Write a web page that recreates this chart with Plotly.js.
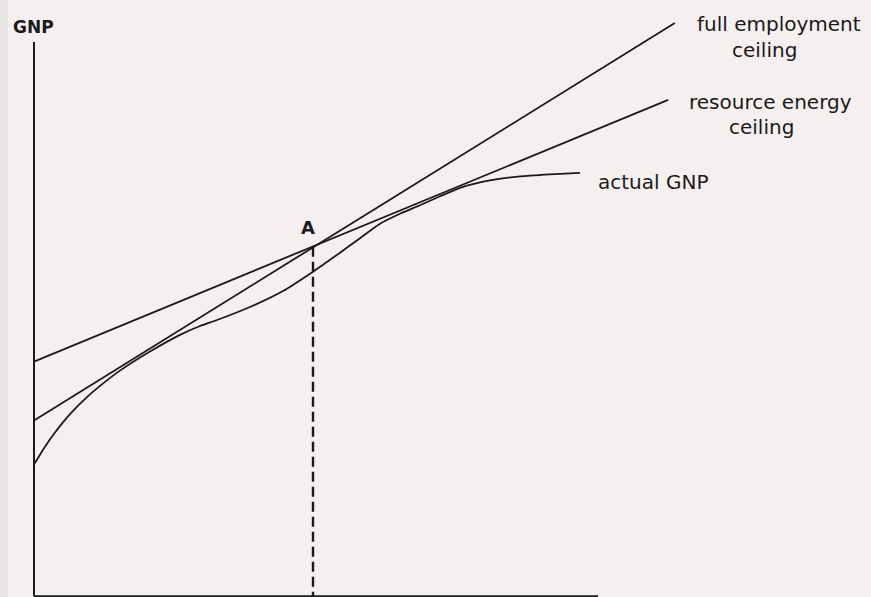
<!DOCTYPE html>
<html>
<head>
<meta charset="utf-8">
<script src="https://cdn.plot.ly/plotly-3.0.1.min.js"></script>
<style>
html,body{margin:0;padding:0;background:#f6efef;}
#chart{width:871px;height:597px;}
</style>
</head>
<body>
<div id="chart"></div>
<script>
// Data (abstract units)
const fullEmpX = [0, 46.5, 106.8];
const fullEmpY = [35.2, 69.9, 114.8];
const resourceX = [0, 46.5, 105.7];
const resourceY = [47, 70, 99.4];
const actualX = [0, 1.83, 3.5, 6, 8.83, 11.83, 14.33, 19.33, 24.33, 27.67, 30.5, 36, 41.5, 46.5, 51, 54.33, 57.67, 61, 64.33, 67.67, 71.5, 76, 81, 86, 91];
const actualY = [26.4, 29.96, 32.8, 36.48, 39.88, 42.92, 45.18, 49, 52.34, 54.12, 55.32, 57.92, 61.12, 65, 68.8, 71.7, 74.6, 76.6, 78.3, 80.1, 82, 83.3, 84.1, 84.5, 84.8];
const pointA = {x: 46.5, y: 70};
const axisTop = 111;
const axisRight = 94;

const ink = '#1a1a1a';
const font = 'DejaVu Sans, sans-serif';

const traces = [
  {x: [0, 0], y: [0, axisTop], mode: 'lines', line: {color: ink, width: 2}},
  {x: [0, axisRight], y: [0, 0], mode: 'lines', line: {color: ink, width: 2}},
  {x: fullEmpX, y: fullEmpY, mode: 'lines', line: {color: ink, width: 1.8}},
  {x: resourceX, y: resourceY, mode: 'lines', line: {color: ink, width: 1.8}},
  {x: actualX, y: actualY, mode: 'lines', line: {color: ink, width: 1.8, shape: 'spline', smoothing: 0.6}},
  {x: [pointA.x, pointA.x], y: [pointA.y, 0], mode: 'lines', line: {color: ink, width: 2.4, dash: '10px,5px'}}
];

const ann = (text, x, y, anchor, size) => ({
  text: text, x: x, y: y, xref: 'x', yref: 'y', xanchor: anchor, yanchor: 'middle',
  showarrow: false, font: {family: font, size: size, color: ink}
});

const layout = {
  width: 871, height: 597,
  margin: {l: 0, r: 0, t: 0, b: 0},
  paper_bgcolor: '#f6efef',
  plot_bgcolor: '#f6efef',
  showlegend: false,
  xaxis: {range: [-5.667, 139.5], visible: false, fixedrange: true},
  yaxis: {range: [-0.15, 119.4], visible: false, fixedrange: true},
  shapes: [
    {type: 'rect', xref: 'paper', yref: 'paper', x0: 0, x1: 8 / 871, y0: 0, y1: 1,
     fillcolor: '#e9e4e4', line: {width: 0}, layer: 'below'}
  ],
  annotations: [
    ann('<b>GNP</b>', -3.8, 114.0, 'left', 17),
    ann('<b>A</b>', 45.6, 73.8, 'center', 18),
    ann('full employment', 110.17, 114.6, 'left', 20),
    ann('ceiling', 116, 109.4, 'left', 20),
    ann('resource energy', 108.83, 99.0, 'left', 20),
    ann('ceiling', 115.5, 94.0, 'left', 20),
    ann('actual GNP', 93.67, 83.0, 'left', 20)
  ]
};

Plotly.newPlot('chart', traces, layout, {displayModeBar: false, staticPlot: true});
</script>
</body>
</html>
